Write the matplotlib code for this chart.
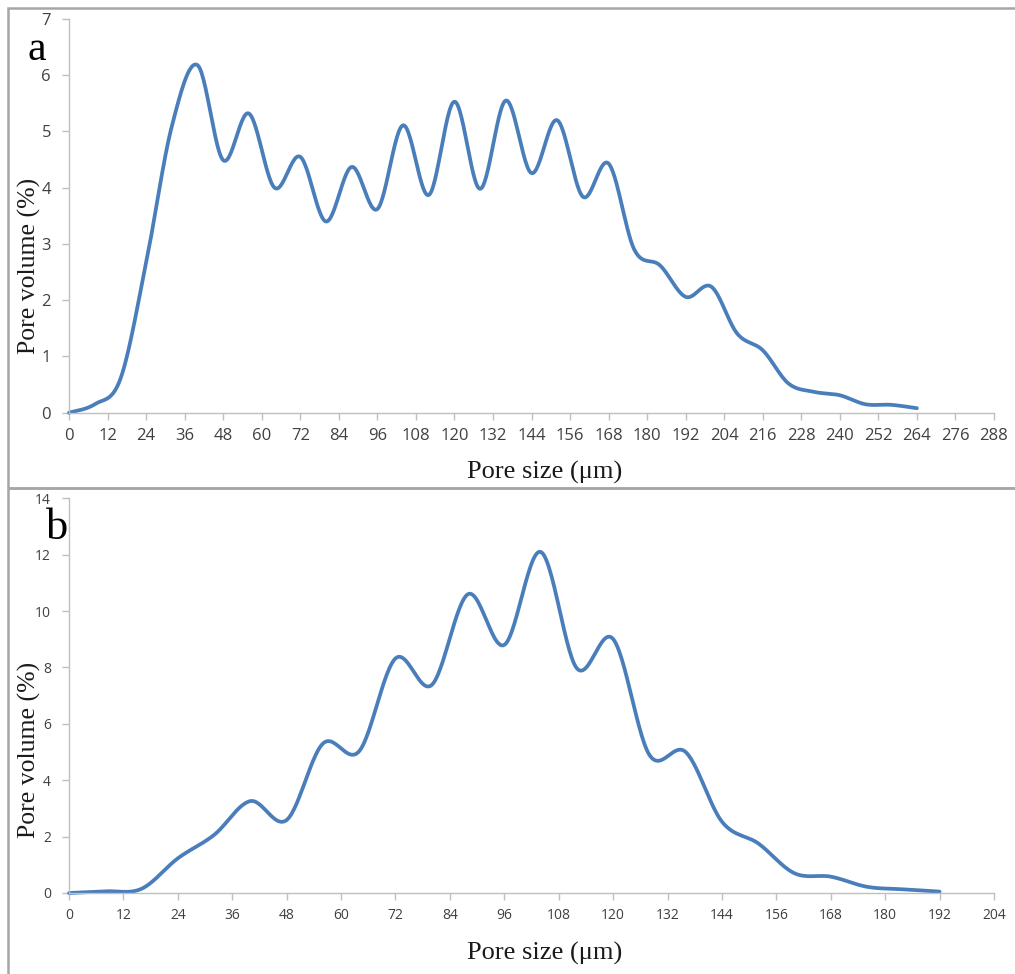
import numpy as np
import matplotlib
matplotlib.use('Agg')
import matplotlib.pyplot as plt
from matplotlib.patches import Rectangle

# panel a - pore size distribution
size_a = [0, 8, 16, 24, 32, 40, 48, 56, 64, 72, 80, 88, 96, 104, 112, 120, 128,
          136, 144, 152, 160, 168, 176, 184, 192, 200, 208, 216, 224, 232, 240,
          248, 256, 264]
vol_a = [0.0, 0.15, 0.6, 2.66, 5.09, 6.18, 4.49, 5.32, 4.0, 4.55, 3.40, 4.37,
         3.62, 5.11, 3.87, 5.53, 3.98, 5.55, 4.26, 5.20, 3.84, 4.43, 2.9, 2.62,
         2.06, 2.24, 1.41, 1.11, 0.52, 0.37, 0.31, 0.15, 0.14, 0.08]

# panel b
size_b = [0, 8, 16, 24, 32, 40, 48, 56, 64, 72, 80, 88, 96, 104, 112, 120, 128,
          136, 144, 152, 160, 168, 176, 184, 192]
vol_b = [0.0, 0.06, 0.15, 1.23, 2.06, 3.26, 2.59, 5.3, 5.03, 8.32, 7.38, 10.6,
         8.8, 12.1, 7.97, 9.01, 4.9, 5.0, 2.53, 1.76, 0.70, 0.58, 0.22, 0.13, 0.05]

xticks_a = list(range(0, 289, 12))
yticks_a = list(range(0, 8))
xticks_b = list(range(0, 205, 12))
yticks_b = list(range(0, 15, 2))


def smooth(x, y, n=30):
    # excel style smoothed line (catmull-rom bezier)
    x = np.asarray(x, float)
    y = np.asarray(y, float)
    px = np.concatenate([[x[0]], x, [x[-1]]])
    py = np.concatenate([[y[0]], y, [y[-1]]])
    t = np.linspace(0, 1, n)[:, None]
    xs, ys = [], []
    for i in range(1, len(px) - 2):
        p0 = np.array([px[i], py[i]])
        p3 = np.array([px[i + 1], py[i + 1]])
        c1 = p0 + (np.array([px[i + 1], py[i + 1]]) - np.array([px[i - 1], py[i - 1]])) / 6
        c2 = p3 - (np.array([px[i + 2], py[i + 2]]) - np.array([px[i], py[i]])) / 6
        pts = ((1 - t) ** 3) * p0 + 3 * ((1 - t) ** 2) * t * c1 + 3 * (1 - t) * t ** 2 * c2 + t ** 3 * p3
        xs.append(pts[:, 0])
        ys.append(pts[:, 1])
    return np.concatenate(xs), np.concatenate(ys)


fig = plt.figure(figsize=(10.15, 9.74), dpi=100)

# panel borders
fig.patches.append(Rectangle((8 / 1015, 1 - 488 / 974), 1.1, 480 / 974, transform=fig.transFigure,
                             fill=False, edgecolor='#a6a6a6', linewidth=1.8))
fig.patches.append(Rectangle((8 / 1015, -0.05), 1.1, 1 - 488 / 974 + 0.05, transform=fig.transFigure,
                             fill=False, edgecolor='#a6a6a6', linewidth=1.8))

ax_a = fig.add_axes([69 / 1015, 1 - 412.7 / 974, 925 / 1015, 393.7 / 974])
ax_b = fig.add_axes([69 / 1015, 1 - 893 / 974, 925 / 1015, 394.7 / 974])

panels = [
    (ax_a, size_a, vol_a, xticks_a, yticks_a, 288, 7, 12),
    (ax_b, size_b, vol_b, xticks_b, yticks_b, 204, 14, 10),
]
for ax, xs, ys, xt, yt, xmax, ymax, fs in panels:
    sx, sy = smooth(xs, ys)
    ax.plot(sx, sy, color='#4a7ebb', linewidth=2.7, solid_capstyle='round', clip_on=False)
    ax.set_xlim(0, xmax)
    ax.set_ylim(0, ymax)
    ax.set_xticks(xt)
    ax.set_yticks(yt)
    for s in ['top', 'right']:
        ax.spines[s].set_visible(False)
    for s in ['left', 'bottom']:
        ax.spines[s].set_color('#bfbfbf')
        ax.spines[s].set_linewidth(1.0)
    ax.tick_params(direction='out', length=5, width=1.0, color='#bfbfbf',
                   labelcolor='#404040', labelsize=fs)
    ax.tick_params(axis='x', pad=6)
    ax.tick_params(axis='y', pad=8)
    for lab in ax.get_xticklabels() + ax.get_yticklabels():
        lab.set_family('Open Sans')

fig.text(29 / 1015, 1 - 266 / 974, 'Pore volume (%)', rotation=90, ha='center', va='center',
         family='Liberation Serif', fontsize=18.5, color='#1a1a1a')
fig.text(545 / 1015, 1 - 472 / 974, 'Pore size (\u03bcm)', ha='center', va='center',
         family='Liberation Serif', fontsize=19, color='#1a1a1a')
fig.text(29 / 1015, 1 - 750 / 974, 'Pore volume (%)', rotation=90, ha='center', va='center',
         family='Liberation Serif', fontsize=18.5, color='#1a1a1a')
fig.text(545 / 1015, 1 - 953 / 974, 'Pore size (\u03bcm)', ha='center', va='center',
         family='Liberation Serif', fontsize=19, color='#1a1a1a')

fig.text(37 / 1015, 1 - 50 / 974, 'a', ha='center', va='center',
         family='Liberation Serif', fontsize=30, color='black')
fig.text(57 / 1015, 1 - 528 / 974, 'b', ha='center', va='center',
         family='Liberation Serif', fontsize=32, color='black')

fig.savefig('out.png', dpi=100)
